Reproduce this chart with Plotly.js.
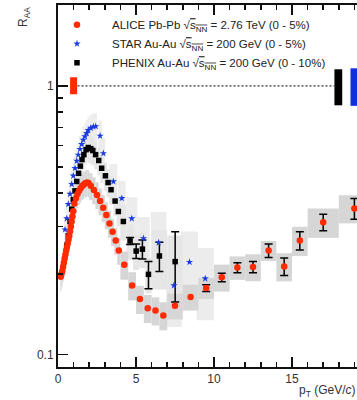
<!DOCTYPE html>
<html><head><meta charset="utf-8">
<script src="https://cdn.plot.ly/plotly-3.0.1.min.js"></script>
<style>html,body{margin:0;padding:0;overflow:hidden;background:#fff}#chart{width:400px;height:400px}</style>
</head><body><div id="chart"></div>
<script>
// ---------------- ALICE Pb-Pb 2.76 TeV (0-5%) ----------------
const alicePt = [0.175,0.225,0.275,0.325,0.375,0.425,0.475,0.525,0.575,0.625,0.675,0.725,0.775,0.825,0.875,0.925,0.975,
  1.05,1.15,1.25,1.35,1.45,1.55,1.65,1.75,1.85,1.95,
  2.1,2.3,2.5,2.7,2.9,3.1,3.3,3.5,3.7,3.9,
  4.25,4.75,5.25,5.75,6.25,6.75,
  7.5,8.5,9.5,10.5,11.5,12.5,13.5,14.5,15.5,17,19];
const aliceBinW = [0.05,0.05,0.05,0.05,0.05,0.05,0.05,0.05,0.05,0.05,0.05,0.05,0.05,0.05,0.05,0.05,0.05,
  0.1,0.1,0.1,0.1,0.1,0.1,0.1,0.1,0.1,0.1,
  0.2,0.2,0.2,0.2,0.2,0.2,0.2,0.2,0.2,0.2,
  0.5,0.5,0.5,0.5,0.5,0.5,
  1,1,1,1,1,1,1,1,1,2,2];
const aliceRaa = [0.195,0.200,0.205,0.212,0.220,0.228,0.236,0.244,0.252,0.260,0.268,0.277,0.288,0.300,0.313,0.327,0.342,
  0.365,0.382,0.396,0.407,0.416,0.424,0.430,0.434,0.437,0.435,
  0.425,0.410,0.393,0.373,0.352,0.331,0.308,0.287,0.266,0.244,
  0.216,0.181,0.161,0.149,0.146,0.140,
  0.152,0.164,0.177,0.194,0.211,0.212,0.244,0.213,0.266,0.311,0.350];
const aliceStat = [null,null,null,null,null,null,null,null,null,null,null,null,null,null,null,null,null,
  null,null,null,null,null,null,null,null,null,null,
  null,null,null,null,null,null,null,null,null,null,
  null,null,null,null,null,null,
  null,null,0.005,0.007,0.009,0.010,0.014,0.016,0.021,0.022,0.031];
const aliceSysRel = [0.12,0.12,0.12,0.12,0.12,0.12,0.12,0.12,0.12,0.12,0.12,0.12,0.12,0.12,0.12,0.12,0.12,
  0.115,0.115,0.115,0.115,0.115,0.115,0.115,0.115,0.115,0.115,
  0.115,0.115,0.115,0.115,0.115,0.115,0.115,0.115,0.115,0.115,
  0.12,0.12,0.12,0.12,0.12,0.12,
  0.11,0.11,0.09,0.115,0.10,0.115,0.085,0.12,0.125,0.125,0.12];

// ---------------- STAR Au-Au 200 GeV (0-5%) ----------------
const starPt = [0.45,0.56,0.66,0.77,0.88,0.98,1.09,1.20,1.30,1.41,1.52,1.62,1.73,1.84,1.94,2.10,2.27,2.42,2.70,2.91,3.55,4.09,4.73,5.48,6.45,7.43,8.43,9.44];
const starBinW = [0.1,0.1,0.1,0.1,0.1,0.1,0.1,0.1,0.1,0.1,0.1,0.1,0.1,0.1,0.1,0.16,0.16,0.16,0.22,0.22,0.5,0.5,0.7,0.8,1.0,1.0,1.1,1.1];
const starRaa = [0.292,0.321,0.363,0.396,0.431,0.463,0.494,0.526,0.554,0.582,0.607,0.630,0.648,0.667,0.684,0.697,0.705,0.707,0.652,0.561,0.441,0.382,0.321,0.271,0.261,0.181,0.221,0.192];
const starSysRel = [0.12,0.12,0.12,0.12,0.12,0.12,0.12,0.12,0.12,0.12,0.12,0.12,0.12,0.12,0.12,0.12,0.12,0.12,0.14,0.14,0.16,0.16,0.2,0.2,0.3,0.3,0.3,0.3];

// ---------------- PHENIX Au-Au 200 GeV (0-10%) ----------------
const phenixPt = [0.56,0.66,0.77,0.88,0.98,1.09,1.20,1.32,1.43,1.54,1.66,1.80,1.94,2.10,2.23,2.41,2.61,2.80,3.04,3.21,3.40,3.66,3.87,4.19,4.62,5.01,5.41,5.80,6.50,7.51];
const phenixBinW = [0.11,0.11,0.11,0.11,0.11,0.11,0.11,0.11,0.11,0.11,0.11,0.11,0.11,0.2,0.2,0.2,0.2,0.2,0.22,0.22,0.22,0.22,0.22,0.4,0.4,0.4,0.4,0.4,1.0,1.0];
const phenixRaa = [0.255,0.277,0.313,0.348,0.377,0.407,0.441,0.473,0.503,0.532,0.555,0.579,0.590,0.584,0.575,0.555,0.528,0.494,0.463,0.437,0.411,0.373,0.341,0.313,0.265,0.243,0.247,0.199,0.233,0.222];
const phenixStat = [null,null,null,null,null,null,null,null,null,null,null,null,null,null,null,null,null,null,null,null,null,null,null,null,0.008,0.015,0.020,0.023,0.029,0.065];
const phenixSysRel = [0.12,0.12,0.12,0.12,0.12,0.12,0.12,0.12,0.12,0.12,0.12,0.12,0.12,0.12,0.12,0.12,0.12,0.12,0.12,0.12,0.12,0.12,0.12,0.15,0.15,0.15,0.15,0.15,0.25,0.25];

// ---------------- normalisation uncertainties at R_AA = 1 ----------------
const normX = [1.0, 17.97, 19.0];
const normW = [0.45, 0.5, 0.5];
const normLo = [0.931, 0.847, 0.843];
const normHi = [1.077, 1.153, 1.163];
const normColor = ['#ff2a00', '#000000', '#1030e0'];
const unityX = [1.25, 17.72];
const unityY = [1, 1];

const labels = [
  'ALICE Pb-Pb √<span style="text-decoration:overline">s<sub>NN</sub></span> = 2.76 TeV (0 - 5%)',
  'STAR Au-Au √<span style="text-decoration:overline">s<sub>NN</sub></span> = 200 GeV (0 - 5%)',
  'PHENIX Au-Au √<span style="text-decoration:overline">s<sub>NN</sub></span> = 200 GeV (0 - 10%)'
];

const nanify = a => a.map(v => v == null ? NaN : v);
function boxTrace(pt, val, rel, w, color) {
  const lo = val.map((v, i) => v * (1 - rel[i]));
  const hi = val.map((v, i) => v * (1 + rel[i]));
  return {type:'bar', x:pt, base:lo, y:hi.map((h, i) => h - lo[i]), width:w,
    marker:{color:color, line:{width:0}}, showlegend:false, hoverinfo:'skip'};
}

const traces = [
  boxTrace(starPt, starRaa, starSysRel, starBinW, '#ececec'),
  boxTrace(phenixPt, phenixRaa, phenixSysRel, phenixBinW, '#e6e6e6'),
  boxTrace(alicePt, aliceRaa, aliceSysRel, aliceBinW, '#d6d6d6'),
  {type:'bar', x:normX, base:normLo, y:normHi.map((h, i) => h - normLo[i]), width:normW,
    marker:{color:normColor, line:{width:0}}, showlegend:false, hoverinfo:'skip'},
  {type:'scatter', mode:'lines', x:unityX, y:unityY, line:{color:'#000', width:1, dash:'2px,2px'},
    showlegend:false, hoverinfo:'skip'},
  {type:'scatter', mode:'markers', name:labels[2], legendrank:3, x:phenixPt, y:phenixRaa,
    marker:{symbol:'square', size:5.5, color:'#000'},
    error_y:{type:'data', array:nanify(phenixStat), color:'#000', thickness:1.5, width:4}},
  {type:'scatter', mode:'markers', name:labels[1], legendrank:2, x:starPt, y:starRaa,
    marker:{symbol:'star', size:5.5, color:'#1a3be0', line:{width:0}}},
  {type:'scatter', mode:'markers', name:labels[0], legendrank:1, x:alicePt, y:aliceRaa,
    marker:{symbol:'circle', size:6.5, color:'#ff2a00'},
    error_y:{type:'data', array:nanify(aliceStat), color:'#000', thickness:1.5, width:4}}
];

const layout = {
  width:400, height:400,
  margin:{l:58, r:30, t:5, b:33},
  paper_bgcolor:'#fff', plot_bgcolor:'#fff',
  barmode:'overlay',
  font:{family:'"Liberation Sans", Arial, sans-serif', color:'#333'},
  xaxis:{range:[0, 20], tick0:0, dtick:5, ticks:'inside', ticklen:10, tickwidth:1.5, tickcolor:'#111',
    showline:true, linecolor:'#111', linewidth:2, mirror:'ticks', showgrid:false, zeroline:false,
    tickfont:{size:12, color:'#333'},
    minor:{dtick:1, tick0:0, ticks:'inside', ticklen:5, tickwidth:1.5, tickcolor:'#111', showgrid:false}},
  yaxis:{type:'log', range:[Math.log10(0.09), Math.log10(2)], tickmode:'array', tickvals:[0.1, 1], ticktext:['0.1', '1'],
    ticks:'inside', ticklen:10, tickwidth:1.5, tickcolor:'#111',
    showline:true, linecolor:'#111', linewidth:2, mirror:'ticks', showgrid:false, zeroline:false,
    tickfont:{size:12, color:'#333'},
    minor:{tickmode:'array', tickvals:[0.2,0.3,0.4,0.5,0.6,0.7,0.8,0.9,2], ticks:'inside', ticklen:5, tickwidth:1.5, tickcolor:'#111', showgrid:false}},
  legend:{x:-0.0513, y:0.9857, xanchor:'left', yanchor:'top', bgcolor:'rgba(0,0,0,0)', borderwidth:0,
    font:{size:11.5, color:'#222'}, itemwidth:60, tracegroupgap:0},
  annotations:[
    {text:'R<sub>AA</sub>', xref:'paper', yref:'paper', x:-0.109, y:1.0, xanchor:'center', yanchor:'top',
      textangle:-90, showarrow:false, font:{size:12, color:'#333'}},
    {text:'p<sub>T</sub> (GeV/<i>c</i>)', xref:'paper', yref:'paper', x:0.766, y:-0.066, xanchor:'left', yanchor:'middle',
      showarrow:false, font:{size:12, color:'#333'}}
  ]
};

Plotly.newPlot('chart', traces, layout, {displayModeBar:false, staticPlot:true});
</script>
</body></html>
